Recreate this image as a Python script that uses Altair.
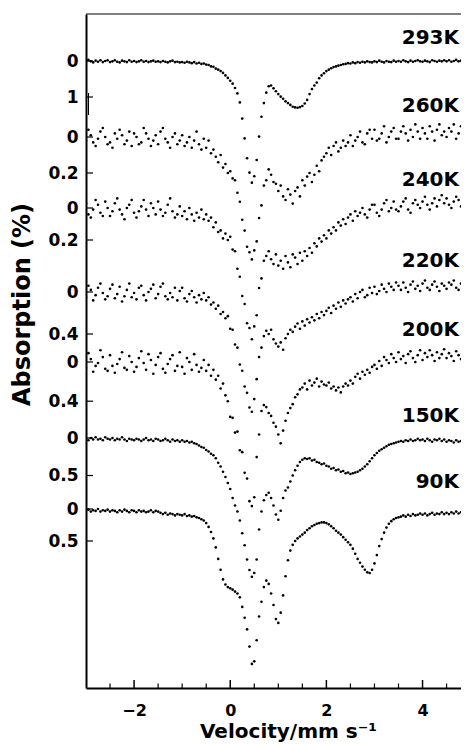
import altair as alt
import pandas as pd

# Velocity channels (mm/s)
V_START = -3.0
V_STEP = 0.05

SPECTRA = ["293K", "260K", "240K", "220K", "200K", "150K", "90K"]

# Absorption (%) per channel
A_293K = [
    0.02, -0.03, 0.01, 0.04, -0.01, 0.02, -0.02, 0.03, 0.00, -0.02,
    0.03, 0.01, -0.02, 0.02, 0.04, -0.01, 0.01, 0.03, -0.02, 0.02,
    0.00, 0.03, 0.01, -0.02, 0.02, 0.00, 0.03, 0.01, -0.01, 0.02,
    0.01, 0.03, 0.00, 0.02, 0.04, 0.01, -0.01, 0.03, 0.02, 0.04,
    0.03, 0.05, 0.02, 0.04, 0.06, 0.03, 0.07, 0.05, 0.08, 0.07,
    0.10, 0.11, 0.15, 0.16, 0.21, 0.24, 0.28, 0.33, 0.40, 0.47,
    0.55, 0.63, 0.75, 0.90, 1.15, 1.60, 2.15, 2.70, 3.10, 3.38,
    3.20, 2.75, 2.10, 1.55, 1.17, 0.88, 0.70, 0.68, 0.76, 0.84,
    0.92, 0.99, 1.05, 1.12, 1.17, 1.22, 1.27, 1.29, 1.30, 1.28,
    1.25, 1.18, 1.08, 0.92, 0.78, 0.68, 0.60, 0.48, 0.40, 0.34,
    0.28, 0.24, 0.20, 0.17, 0.15, 0.13, 0.11, 0.09, 0.08, 0.06,
    0.07, 0.04, 0.06, 0.03, 0.05, 0.02, 0.04, 0.01, 0.03, 0.04,
    0.01, 0.03, -0.01, 0.02, 0.04, 0.00, 0.02, 0.03, -0.01, 0.02,
    0.00, 0.02, -0.02, 0.01, 0.03, -0.01, 0.02, 0.00, -0.02, 0.01,
    0.02, -0.01, 0.01, 0.03, -0.02, 0.00, 0.02, -0.01, 0.01, -0.02,
    0.01, -0.02, 0.02, 0.00, -0.03, 0.01, -0.01, 0.02, -0.02, 0.00,
    0.01,
]
A_260K = [
    0.02, -0.04, -0.01, 0.03, 0.05, 0.01, -0.03, -0.05, 0.00, 0.04,
    0.03, 0.06, -0.02, 0.01, -0.04, -0.01, 0.04, 0.02, -0.03, 0.05,
    -0.02, 0.00, 0.04, 0.03, -0.05, -0.02, 0.01, 0.05, 0.02, -0.01,
    0.04, -0.03, -0.05, 0.01, 0.03, 0.06, 0.00, -0.02, 0.04, 0.02,
    -0.01, 0.05, 0.03, 0.00, 0.06, 0.02, -0.03, 0.04, 0.07, 0.01,
    0.06, 0.02, 0.09, 0.07, 0.11, 0.14, 0.10, 0.17, 0.15, 0.20,
    0.19, 0.23, 0.24, 0.31, 0.36, 0.46, 0.52, 0.61, 0.64, 0.68,
    0.63, 0.58, 0.45, 0.38, 0.27, 0.24, 0.18, 0.21, 0.25, 0.26,
    0.30, 0.27, 0.33, 0.35, 0.29, 0.32, 0.37, 0.30, 0.28, 0.33,
    0.24, 0.27, 0.22, 0.20, 0.25, 0.21, 0.16, 0.19, 0.13, 0.11,
    0.09, 0.06, 0.10, 0.05, 0.03, 0.08, 0.06, 0.02, 0.05, 0.03,
    -0.01, 0.05, 0.02, 0.00, -0.03, 0.03, 0.04, -0.02, -0.04, 0.01,
    -0.04, 0.02, 0.01, -0.02, -0.06, 0.03, 0.00, -0.03, -0.05, 0.01,
    0.01, -0.03, -0.06, -0.02, 0.02, -0.04, 0.00, -0.07, -0.03, 0.01,
    -0.05, -0.02, 0.01, -0.06, -0.03, 0.02, -0.04, -0.07, -0.01, -0.03,
    0.00, -0.05, -0.03, -0.07, 0.01, -0.02, -0.06, -0.04, 0.00, -0.05,
    -0.03,
]
A_240K = [
    -0.03, 0.04, 0.06, 0.01, -0.05, -0.02, 0.03, 0.05, -0.04, 0.00,
    0.05, 0.02, -0.03, -0.06, 0.01, 0.04, 0.07, 0.00, -0.02, -0.05,
    0.03, 0.06, 0.02, -0.01, -0.05, 0.01, 0.05, -0.03, 0.00, 0.04,
    -0.04, 0.01, 0.05, 0.03, -0.02, -0.06, 0.02, 0.06, 0.04, -0.01,
    0.05, 0.02, 0.07, 0.00, 0.04, 0.08, 0.03, 0.06, 0.01, 0.07,
    0.04, 0.08, 0.06, 0.12, 0.09, 0.15, 0.14, 0.19, 0.16, 0.20,
    0.18, 0.26, 0.27, 0.38, 0.43, 0.55, 0.60, 0.72, 0.75, 0.82,
    0.74, 0.67, 0.50, 0.44, 0.33, 0.30, 0.27, 0.32, 0.35, 0.29,
    0.36, 0.33, 0.38, 0.30, 0.34, 0.37, 0.29, 0.31, 0.35, 0.28,
    0.33, 0.27, 0.30, 0.25, 0.28, 0.22, 0.24, 0.19, 0.21, 0.17,
    0.19, 0.14, 0.16, 0.12, 0.14, 0.09, 0.11, 0.07, 0.10, 0.06,
    0.04, 0.08, 0.02, 0.05, 0.03, 0.00, 0.04, 0.06, 0.01, -0.02,
    -0.02, 0.03, 0.05, 0.01, -0.03, -0.05, 0.02, 0.00, -0.04, 0.01,
    0.02, -0.01, -0.04, -0.06, 0.01, 0.03, -0.03, -0.05, -0.02, 0.00,
    -0.04, -0.07, -0.02, 0.01, -0.03, -0.06, -0.01, -0.05, -0.08, -0.03,
    -0.06, -0.02, 0.00, -0.04, -0.07, -0.05, -0.01, -0.03, -0.06, -0.08,
    -0.04,
]
A_220K = [
    0.05, -0.06, -0.02, 0.08, 0.03, -0.04, -0.08, 0.01, 0.07, 0.04,
    -0.03, -0.07, 0.06, 0.02, -0.05, 0.09, 0.04, -0.02, -0.08, 0.05,
    0.01, 0.07, -0.04, -0.06, 0.03, 0.08, 0.00, -0.03, -0.07, 0.06,
    0.02, -0.05, -0.08, 0.04, 0.07, 0.01, 0.05, -0.04, 0.08, -0.01,
    -0.04, 0.06, 0.09, 0.02, -0.01, 0.05, 0.10, 0.03, 0.07, 0.01,
    0.08, 0.05, 0.12, 0.10, 0.16, 0.13, 0.21, 0.19, 0.25, 0.23,
    0.35, 0.36, 0.50, 0.53, 0.69, 0.75, 0.90, 0.96, 1.10, 1.14,
    1.02, 0.83, 0.62, 0.53, 0.42, 0.37, 0.40, 0.36, 0.45, 0.49,
    0.52, 0.48, 0.55, 0.44, 0.40, 0.36, 0.38, 0.33, 0.30, 0.35,
    0.28, 0.32, 0.26, 0.29, 0.24, 0.27, 0.21, 0.25, 0.19, 0.22,
    0.18, 0.15, 0.20, 0.13, 0.16, 0.10, 0.14, 0.08, 0.11, 0.07,
    0.05, 0.09, 0.02, 0.06, 0.00, -0.02, 0.05, 0.03, -0.04, 0.01,
    -0.05, 0.02, -0.01, -0.07, -0.03, 0.00, -0.08, -0.05, -0.02, -0.09,
    -0.06, -0.02, -0.09, -0.04, 0.00, -0.07, -0.10, -0.03, -0.06, -0.01,
    -0.08, -0.11, -0.04, -0.02, -0.07, -0.10, -0.05, -0.01, -0.08, -0.06,
    -0.03, -0.09, -0.07, -0.11, -0.04, -0.02, -0.08, -0.10, -0.05, -0.07,
    -0.04,
]
A_200K = [
    0.06, -0.09, -0.03, 0.10, 0.04, 0.01, -0.12, -0.05, 0.07, 0.09,
    -0.07, 0.04, 0.11, 0.02, -0.03, -0.10, 0.06, 0.08, -0.06, 0.00,
    0.10, 0.05, -0.04, -0.11, 0.01, 0.08, -0.08, -0.02, 0.12, 0.03,
    -0.05, -0.09, 0.07, 0.11, 0.02, -0.03, -0.07, 0.09, 0.04, -0.10,
    0.05, 0.12, -0.04, 0.00, 0.08, -0.08, 0.03, 0.10, 0.06, -0.02,
    0.09, 0.03, 0.14, 0.08, 0.18, 0.14, 0.27, 0.22, 0.34, 0.40,
    0.56, 0.57, 0.72, 0.71, 0.90, 0.92, 1.13, 1.19, 1.42, 1.47,
    1.38, 0.97, 0.74, 0.50, 0.44, 0.46, 0.52, 0.55, 0.62, 0.66,
    0.74, 0.83, 0.70, 0.60, 0.52, 0.47, 0.43, 0.36, 0.33, 0.28,
    0.26, 0.22, 0.28, 0.19, 0.24, 0.21, 0.17, 0.25, 0.20, 0.23,
    0.24, 0.21, 0.27, 0.25, 0.29, 0.26, 0.31, 0.25, 0.22, 0.24,
    0.19, 0.22, 0.15, 0.12, 0.17, 0.10, 0.13, 0.08, 0.11, 0.05,
    0.03, 0.07, -0.01, 0.04, -0.05, -0.02, 0.01, -0.08, -0.04, 0.00,
    -0.10, -0.03, -0.06, 0.01, -0.08, -0.11, -0.04, 0.00, -0.07, -0.12,
    -0.02, -0.09, -0.05, -0.12, -0.07, -0.01, -0.10, -0.04, -0.08, -0.13,
    -0.04, -0.09, -0.06, -0.01, -0.11, -0.07, -0.03, -0.10, -0.12, -0.05,
    -0.07,
]
A_150K = [
    0.01, 0.03, 0.00, 0.02, -0.01, 0.02, 0.01, 0.03, -0.01, 0.01,
    0.02, 0.00, 0.03, 0.01, 0.02, -0.01, 0.02, 0.04, 0.01, 0.02,
    0.03, 0.01, 0.02, 0.04, 0.02, 0.00, 0.03, 0.02, 0.04, 0.01,
    0.02, 0.04, 0.03, 0.01, 0.03, 0.05, 0.02, 0.04, 0.03, 0.05,
    0.03, 0.05, 0.04, 0.06, 0.05, 0.07, 0.08, 0.10, 0.12, 0.13,
    0.16, 0.18, 0.21, 0.23, 0.27, 0.33, 0.38, 0.45, 0.52, 0.60,
    0.68, 0.80, 0.90, 0.98, 1.10, 1.27, 1.43, 1.62, 1.76, 1.85,
    1.80, 1.62, 1.22, 0.98, 0.83, 0.76, 0.73, 0.80, 0.90, 1.02,
    1.09, 0.97, 0.80, 0.70, 0.66, 0.58, 0.50, 0.43, 0.37, 0.32,
    0.29, 0.27, 0.28, 0.27, 0.30, 0.29, 0.32, 0.33, 0.35, 0.34,
    0.37, 0.38, 0.41, 0.40, 0.43, 0.42, 0.45, 0.44, 0.47, 0.46,
    0.48, 0.47, 0.46, 0.45, 0.43, 0.41, 0.38, 0.35, 0.31, 0.27,
    0.23, 0.20, 0.17, 0.15, 0.13, 0.11, 0.09, 0.08, 0.07, 0.06,
    0.05, 0.04, 0.05, 0.03, 0.04, 0.02, 0.04, 0.03, 0.01, 0.03,
    0.02, 0.04, 0.01, 0.03, 0.05, 0.02, 0.03, 0.01, 0.04, 0.02,
    0.05, 0.03, 0.04, 0.06, 0.03, 0.05, 0.04, 0.06, 0.05, 0.03,
    0.05,
]
A_90K = [
    0.03, 0.01, 0.04, 0.02, 0.03, 0.00, 0.04, 0.02, 0.03, 0.01,
    0.04, 0.02, 0.03, 0.05, 0.02, 0.04, 0.01, 0.03, 0.05, 0.02,
    0.03, 0.05, 0.02, 0.04, 0.03, 0.05, 0.04, 0.02, 0.05, 0.03,
    0.04, 0.06, 0.08, 0.06, 0.09, 0.07, 0.08, 0.10, 0.08, 0.09,
    0.10, 0.08, 0.11, 0.10, 0.12, 0.11, 0.13, 0.14, 0.16, 0.18,
    0.22, 0.28, 0.36, 0.46, 0.60, 0.78, 0.95, 1.10, 1.18, 1.22,
    1.24, 1.26, 1.29, 1.32, 1.38, 1.53, 1.70, 1.88, 2.15, 2.42,
    2.38, 2.05, 1.68, 1.45, 1.22, 1.12, 1.17, 1.32, 1.50, 1.72,
    1.78, 1.62, 1.35, 1.05, 0.80, 0.65, 0.56, 0.50, 0.46, 0.43,
    0.40, 0.37, 0.33, 0.30, 0.27, 0.25, 0.23, 0.22, 0.21, 0.21,
    0.22, 0.24, 0.27, 0.30, 0.34, 0.37, 0.40, 0.44, 0.48, 0.52,
    0.56, 0.62, 0.70, 0.78, 0.84, 0.90, 0.95, 0.99, 1.00, 0.95,
    0.85, 0.72, 0.58, 0.47, 0.37, 0.29, 0.23, 0.19, 0.16, 0.14,
    0.13, 0.12, 0.10, 0.12, 0.09, 0.11, 0.08, 0.10, 0.09, 0.07,
    0.09, 0.07, 0.10, 0.08, 0.06, 0.09, 0.07, 0.08, 0.05, 0.08,
    0.06, 0.08, 0.05, 0.07, 0.04, 0.07, 0.05, 0.06, 0.04, 0.06,
    0.05,
]
ABSORPTION = [A_293K, A_260K, A_240K, A_220K, A_200K, A_150K, A_90K]

# Scale-bar label (%) shown beside each spectrum's zero
SCALE_LABEL = [1, 0.2, 0.2, 0.4, 0.4, 0.5, 0.5]
X_TICK_LABELS = [-2, 0, 2, 4]
X_MINOR = [-2.5, -1.5, -1, -0.5, 0.5, 1, 1.5, 2.5, 3, 3.5, 4.5]

# --- stacking layout (plot-area pixels from top) ---
W, H = 375, 674
BASE = [47, 123, 194, 278, 348, 424, 495]
PX_PER_PCT = [36, 180, 160, 105, 98, 75, 64]
NAME_Y = [24, 92, 166, 247, 316, 402, 468]

FONT = "DejaVu Sans"

rows = []
for name, vals, b, k in zip(SPECTRA, ABSORPTION, BASE, PX_PER_PCT):
    for i, a in enumerate(vals):
        rows.append({"spectrum": name,
                     "velocity": round(V_START + i * V_STEP, 2),
                     "absorption": a,
                     "pos": b + a * k})
df = pd.DataFrame(rows)

tick_pos, tick_txt = [], []
for b, k, lab in zip(BASE, PX_PER_PCT, SCALE_LABEL):
    tick_pos += [b, round(b + lab * k, 2)]
    tick_txt += ["0", f"{lab:g}"]

expr = "''"
for p, t in reversed(list(zip(tick_pos, tick_txt))):
    expr = f"abs(datum.value - {p}) < 0.5 ? '{t}' : ({expr})"

xs = alt.Scale(domain=[-3, 4.8], nice=False, zero=False)
ys = alt.Scale(domain=[0, H], reverse=True, nice=False, zero=False)

X_AXIS = alt.Axis(values=X_TICK_LABELS, title="Velocity/mm s\u207b\u00b9",
                  ticks=False, tickSize=0, grid=False, labelPadding=14,
                  labelFontSize=16, titleFontSize=20,
                  titleX=202, titleY=49, titleBaseline="alphabetic",
                  titleAlign="center", domain=True, domainWidth=2,
                  domainColor="black")
Y_AXIS = alt.Axis(values=tick_pos, labelExpr=expr, title="Absorption (%)",
                  ticks=False, tickSize=0, grid=False, labelPadding=8,
                  labelFontSize=17, labelOverlap=False, titleFontSize=24,
                  titleAngle=270, titleX=-64, titleY=290,
                  titleAlign="center", titleBaseline="middle",
                  domain=True, domainWidth=2, domainColor="black")

points = alt.Chart(df).mark_circle(size=7, color="black", opacity=1, clip=True).encode(
    x=alt.X("velocity:Q", scale=xs, axis=X_AXIS, title="Velocity/mm s\u207b\u00b9"),
    y=alt.Y("pos:Q", scale=ys, axis=Y_AXIS, title="Absorption (%)"),
)

names = alt.Chart(pd.DataFrame({"spectrum": SPECTRA, "ny": NAME_Y})).mark_text(
    align="right", baseline="middle", font=FONT, fontSize=20, fontWeight="bold",
    color="black").encode(
    x=alt.value(373),
    y=alt.Y("ny:Q", scale=ys, axis=Y_AXIS, title="Absorption (%)"),
    text="spectrum:N",
)

xmaj = alt.Chart(pd.DataFrame({"v": X_TICK_LABELS})).mark_rule(
    color="black", strokeWidth=1.5).encode(
    x=alt.X("v:Q", scale=xs, axis=X_AXIS, title="Velocity/mm s\u207b\u00b9"),
    y=alt.value(H), y2=alt.value(H - 8))
xmin = alt.Chart(pd.DataFrame({"v": X_MINOR})).mark_rule(
    color="black", strokeWidth=1.2).encode(
    x=alt.X("v:Q", scale=xs, axis=X_AXIS, title="Velocity/mm s\u207b\u00b9"),
    y=alt.value(H), y2=alt.value(H - 4.5))
yt = alt.Chart(pd.DataFrame({"p": tick_pos})).mark_rule(
    color="black", strokeWidth=1.2).encode(
    y=alt.Y("p:Q", scale=ys, axis=Y_AXIS, title="Absorption (%)"),
    x=alt.value(0), x2=alt.value(7))
top = alt.Chart(alt.Data(values=[{}])).mark_rule(color="black", strokeWidth=1.2).encode(
    x=alt.value(0), x2=alt.value(W), y=alt.value(0))
cross = alt.Chart(alt.Data(values=[{}])).mark_rule(color="black", strokeWidth=1).encode(
    x=alt.value(2.5), y=alt.value(79), y2=alt.value(101))

chart = alt.layer(points, names, xmaj, xmin, yt, top, cross).properties(
    width=W, height=H,
    autosize=alt.AutoSizeParams(type="none"),
    padding={"left": 78, "top": 6, "right": 0, "bottom": 57},
).configure_view(stroke=None).configure_axis(
    domainColor="black", domainWidth=2, labelColor="black", titleColor="black",
    labelFont=FONT, titleFont=FONT, labelFontWeight="bold", titleFontWeight="bold",
)

chart.save("out.html", embed_options={"renderer": "svg", "actions": False})
